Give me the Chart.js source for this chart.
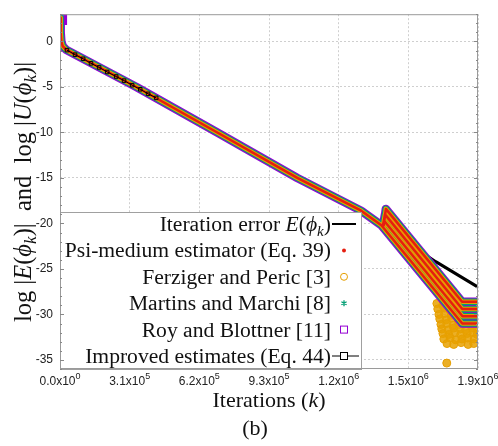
<!DOCTYPE html>
<html>
<head>
<meta charset="utf-8">
<script src="https://cdn.jsdelivr.net/npm/chart.js@4.4.0/dist/chart.umd.min.js"></script>
<style>
  body { margin: 0; background: #fff; }
  canvas { display: block; background: #fff; }
</style>
</head>
<body>
<canvas id="chart" width="498" height="446"></canvas>
<script>

// shared decay (iteration error and all estimators follow it up to the kink)
const trendK = [0, 3000, 6000, 12000, 27000, 340000, 700000, 1056000, 1340000, 1430000];
const trendLog = [2.6, 1.0, 0.0, -0.5, -0.9, -5.0, -10.0, -15.0, -18.6, -20.2];

// iteration error after the kink
const errorTailK = [1672000, 1860000];
const errorTailLog = [-24.2, -27.0];

// estimators after the kink: four parallel streaks ending in flat stubs
const branchK = [
    [1430000, 1790000, 1860000],
    [1435000, 1442000, 1791000, 1860000],
    [1437000, 1446000, 1790000, 1860000],
    [1440000, 1450000, 1789000, 1860000]
];
const branchLog = [
    [-20.2, -31.0, -31.0],
    [-20.3, -19.7, -30.2, -30.2],
    [-20.3, -19.0, -29.4, -29.4],
    [-20.3, -18.4, -28.6, -28.6]
];

// Ferziger and Peric scatter at the end of the run
const cloudK = [
    1677000, 1703000, 1732000,
    1681000, 1710000, 1734000, 1763000,
    1686000, 1712000, 1741000, 1765000, 1794000,
    1690000, 1718000, 1743000, 1772000, 1796000, 1825000,
    1695000, 1721000, 1749000, 1774000, 1803000, 1828000, 1852000,
    1699000, 1727000, 1752000, 1781000, 1805000, 1834000, 1855000,
    1704000, 1730000, 1758000, 1783000, 1812000, 1837000, 1856000,
    1708000, 1736000, 1761000, 1789000, 1814000, 1843000,
    1722000, 1752000, 1785000, 1816000, 1841000,
    1721000
];
const cloudLog = [
    -28.8, -29.0, -28.9,
    -29.4, -29.3, -29.5, -29.4,
    -30.0, -29.9, -30.1, -30.0, -29.9,
    -30.5, -30.6, -30.4, -30.6, -30.5, -30.4,
    -31.1, -31.0, -31.2, -31.1, -31.0, -31.2, -31.0,
    -31.6, -31.7, -31.5, -31.6, -31.7, -31.5, -31.6,
    -32.1, -32.2, -32.0, -32.2, -32.1, -32.0, -32.2,
    -32.7, -32.6, -32.8, -32.7, -32.6, -32.7,
    -33.2, -33.3, -33.1, -33.3, -33.2,
    -35.35
];

// improved estimates (Eq. 44), visible at the start
const improvedK = [31000, 67000, 103000, 138000, 174000, 210000, 250000, 285000, 321000, 357000, 392000, 428000];
const improvedLog = [-0.95, -1.45, -1.9, -2.4, -2.85, -3.35, -3.85, -4.3, -4.8, -5.25, -5.75, -6.2];

const xTicks = [0, 310000, 620000, 930000, 1240000, 1550000, 1860000];
const xTickMantissa = ['0.0', '3.1', '6.2', '9.3', '1.2', '1.5', '1.9'];
const xTickExponent = ['0', '5', '5', '5', '6', '6', '6'];
const yTicks = [0, -5, -10, -15, -20, -25, -30, -35];

const psiColor = '#e51e10';
const ferzColor = '#e69f00';
const martColor = '#009e73';
const royColor = '#9400d3';

const serif = '"Liberation Serif", "Times New Roman", "DejaVu Serif", serif';
const sans = '"Liberation Sans", Arial, sans-serif';

function toPoints(ks, vs) {
    return ks.map((k, i) => ({ x: k, y: vs[i] }));
}

const trendPoints = toPoints(trendK, trendLog);
const errorPoints = trendPoints.concat(toPoints(errorTailK, errorTailLog));

// one path per estimator: trend, then the streaks separated by gaps
let estimatorPoints = trendPoints.concat(toPoints(branchK[0], branchLog[0]).slice(1));
for (let b = 1; b < branchK.length; b++) {
    estimatorPoints.push({ x: branchK[b][0], y: null });
    estimatorPoints = estimatorPoints.concat(toPoints(branchK[b], branchLog[b]));
}

function bandDataset(label, color, width, order) {
    return {
        label: label,
        data: estimatorPoints,
        borderColor: color,
        borderWidth: width,
        borderJoinStyle: 'round',
        pointRadius: 0,
        spanGaps: false,
        order: order
    };
}

const roy = bandDataset('Roy and Blottner [11]', royColor, 8.5, 4);
roy.pointRadius = c => c.dataIndex === 0 ? 4 : 0;
roy.pointStyle = 'rect';
roy.pointBorderColor = royColor;
roy.pointBackgroundColor = 'rgba(0,0,0,0)';

const datasets = [
    {
        label: 'Iteration error',
        data: errorPoints,
        borderColor: '#000',
        borderWidth: 3,
        pointRadius: 0,
        order: 6
    },
    {
        label: 'Ferziger and Peric [3] scatter',
        data: toPoints(cloudK, cloudLog),
        showLine: false,
        pointStyle: 'circle',
        pointRadius: 4,
        pointBorderWidth: 1,
        pointBorderColor: ferzColor,
        pointBackgroundColor: 'rgba(232,161,0,0.85)',
        order: 5
    },
    roy,
    bandDataset('Martins and Marchi [8]', martColor, 6.5, 3),
    bandDataset('Ferziger and Peric [3]', ferzColor, 4.5, 2),
    bandDataset('Psi-medium estimator (Eq. 39)', psiColor, 2.5, 1),
    {
        label: 'Improved estimates (Eq. 44)',
        data: toPoints(improvedK, improvedLog),
        borderColor: '#000',
        borderWidth: 1,
        pointStyle: 'rect',
        pointRadius: 2.5,
        pointBorderWidth: 1,
        pointBorderColor: '#000',
        pointBackgroundColor: 'rgba(0,0,0,0)',
        order: 0
    }
];

// draws text made of roman / italic / subscript pieces
function drawRich(ctx, parts, x, y, size, align) {
    const fontOf = p => (p.it ? 'italic ' : '') + (p.sub ? size * 0.7 : size) + 'px ' + serif;
    const widths = parts.map(p => {
        ctx.font = fontOf(p);
        return ctx.measureText(p.t).width;
    });
    const total = widths.reduce((a, b) => a + b, 0);
    let cx = align === 'right' ? x - total : align === 'center' ? x - total / 2 : x;
    ctx.textAlign = 'left';
    ctx.textBaseline = 'alphabetic';
    parts.forEach((p, i) => {
        ctx.font = fontOf(p);
        ctx.fillText(p.t, cx, y + (p.sub ? size * 0.22 : 0));
        cx += widths[i];
    });
}

const legendRows = [
    { parts: [{ t: 'Iteration error ' }, { t: 'E', it: 1 }, { t: '(' }, { t: 'ϕ', it: 1 }, { t: 'k', it: 1, sub: 1 }, { t: ')' }], mark: 'line' },
    { parts: [{ t: 'Psi-medium estimator (Eq. 39)' }], mark: 'dot' },
    { parts: [{ t: 'Ferziger and Peric [3]' }], mark: 'circle' },
    { parts: [{ t: 'Martins and Marchi [8]' }], mark: 'star' },
    { parts: [{ t: 'Roy and Blottner [11]' }], mark: 'square' },
    { parts: [{ t: 'Improved estimates (Eq. 44)' }], mark: 'linesquare' }
];

function drawMark(ctx, kind, cx, cy) {
    ctx.save();
    ctx.lineWidth = 1;
    if (kind === 'line') {
        ctx.strokeStyle = '#000';
        ctx.lineWidth = 2;
        ctx.beginPath();
        ctx.moveTo(cx - 12, cy);
        ctx.lineTo(cx + 12, cy);
        ctx.stroke();
    } else if (kind === 'dot') {
        ctx.fillStyle = psiColor;
        ctx.beginPath();
        ctx.arc(cx, cy, 2, 0, Math.PI * 2);
        ctx.fill();
    } else if (kind === 'circle') {
        ctx.strokeStyle = ferzColor;
        ctx.beginPath();
        ctx.arc(cx, cy, 3.5, 0, Math.PI * 2);
        ctx.stroke();
    } else if (kind === 'star') {
        ctx.strokeStyle = martColor;
        ctx.lineWidth = 1.3;
        ctx.beginPath();
        for (let a = 0; a < 3; a++) {
            const ang = a * Math.PI / 3 + Math.PI / 2;
            ctx.moveTo(cx - 3 * Math.cos(ang), cy - 3 * Math.sin(ang));
            ctx.lineTo(cx + 3 * Math.cos(ang), cy + 3 * Math.sin(ang));
        }
        ctx.stroke();
    } else if (kind === 'square') {
        ctx.strokeStyle = royColor;
        ctx.strokeRect(cx - 3.5, cy - 3.5, 7, 7);
    } else if (kind === 'linesquare') {
        ctx.strokeStyle = '#000';
        ctx.beginPath();
        ctx.moveTo(cx - 12, cy);
        ctx.lineTo(cx + 15, cy);
        ctx.stroke();
        ctx.fillStyle = '#fff';
        ctx.fillRect(cx - 3.5, cy - 3.5, 7, 7);
        ctx.strokeRect(cx - 3.5, cy - 3.5, 7, 7);
    }
    ctx.restore();
}

const decorations = {
    id: 'decorations',
    afterDatasetsDraw(chart) {
        const { ctx, chartArea: a, scales } = chart;
        const xs = scales.x, ys = scales.y;
        ctx.save();

        // key box over the lower left of the plot
        const box = { left: a.left, top: 212, right: 361, bottom: a.bottom };
        ctx.fillStyle = '#fff';
        ctx.fillRect(box.left, box.top, box.right - box.left, box.bottom - box.top);
        ctx.strokeStyle = '#a0a0a0';
        ctx.lineWidth = 1;
        ctx.strokeRect(box.left + 0.5, box.top + 0.5, box.right - box.left, box.bottom - box.top);

        ctx.fillStyle = '#111';
        legendRows.forEach((row, i) => {
            const cy = 224 + i * 26.4;
            drawRich(ctx, row.parts, 331, cy + 7, 21.6, 'right');
            drawMark(ctx, row.mark, 344, cy);
        });

        // plot border
        ctx.strokeStyle = '#9a9a9a';
        ctx.lineWidth = 1;
        ctx.strokeRect(a.left + 0.5, a.top + 0.5, a.right - a.left - 1, a.bottom - a.top - 1);

        // small inward tick marks on both sides of the y axis
        ctx.strokeStyle = '#888';
        ctx.beginPath();
        for (let v = -36; v <= 3; v++) {
            const py = Math.round(ys.getPixelForValue(v)) + 0.5;
            const len = v % 5 === 0 ? 4 : 2;
            ctx.moveTo(a.left, py);
            ctx.lineTo(a.left + len, py);
            ctx.moveTo(a.right, py);
            ctx.lineTo(a.right - len, py);
        }
        ctx.stroke();

        // x tick labels with raised exponent
        ctx.fillStyle = '#222';
        ctx.textBaseline = 'alphabetic';
        ctx.textAlign = 'left';
        xs.ticks.forEach((tick, i) => {
            const px = xs.getPixelForValue(tick.value);
            const base = xTickMantissa[i] + 'x10';
            ctx.font = '12px ' + sans;
            const w1 = ctx.measureText(base).width;
            ctx.font = '9px ' + sans;
            const w2 = ctx.measureText(xTickExponent[i]).width;
            const x0 = px - (w1 + w2) / 2;
            ctx.font = '12px ' + sans;
            ctx.fillText(base, x0, 385);
            ctx.font = '9px ' + sans;
            ctx.fillText(xTickExponent[i], x0 + w1, 379);
        });

        // axis titles and panel tag
        ctx.fillStyle = '#111';
        drawRich(ctx, [{ t: 'Iterations (' }, { t: 'k', it: 1 }, { t: ')' }], (a.left + a.right) / 2, 407, 22, 'center');
        drawRich(ctx, [{ t: '(b)' }], 255, 435, 22, 'center');

        ctx.translate(31, 192);
        ctx.rotate(-Math.PI / 2);
        drawRich(ctx, [
            { t: 'log |' }, { t: 'E', it: 1 }, { t: '(' }, { t: 'ϕ', it: 1 }, { t: 'k', it: 1, sub: 1 },
            { t: ')|  and  log |' }, { t: 'U', it: 1 }, { t: '(' }, { t: 'ϕ', it: 1 }, { t: 'k', it: 1, sub: 1 }, { t: ')|' }
        ], 0, 0, 24.5, 'center');

        ctx.restore();
    }
};

new Chart(document.getElementById('chart'), {
    type: 'line',
    data: { datasets: datasets },
    options: {
        responsive: false,
        animation: false,
        events: [],
        layout: { padding: { left: 0, right: 20, top: 8, bottom: 0 } },
        plugins: {
            legend: { display: false },
            tooltip: { enabled: false }
        },
        scales: {
            x: {
                type: 'linear',
                min: 0,
                max: 1860000,
                afterBuildTicks: s => { s.ticks = xTicks.map(v => ({ value: v })); },
                afterFit: s => { s.height = 77; },
                ticks: { display: false },
                grid: { color: '#cfcfcf', lineWidth: 1, drawTicks: false },
                border: { display: false, dash: [2, 2] }
            },
            y: {
                type: 'linear',
                min: -36,
                max: 3,
                afterBuildTicks: s => { s.ticks = yTicks.map(v => ({ value: v })); },
                afterFit: s => { s.width = 60; },
                ticks: {
                    color: '#222',
                    padding: 7,
                    font: { family: sans, size: 12 }
                },
                grid: { color: '#cfcfcf', lineWidth: 1, drawTicks: false },
                border: { display: false, dash: [2, 2] }
            }
        }
    },
    plugins: [decorations]
});
</script>
</body>
</html>
